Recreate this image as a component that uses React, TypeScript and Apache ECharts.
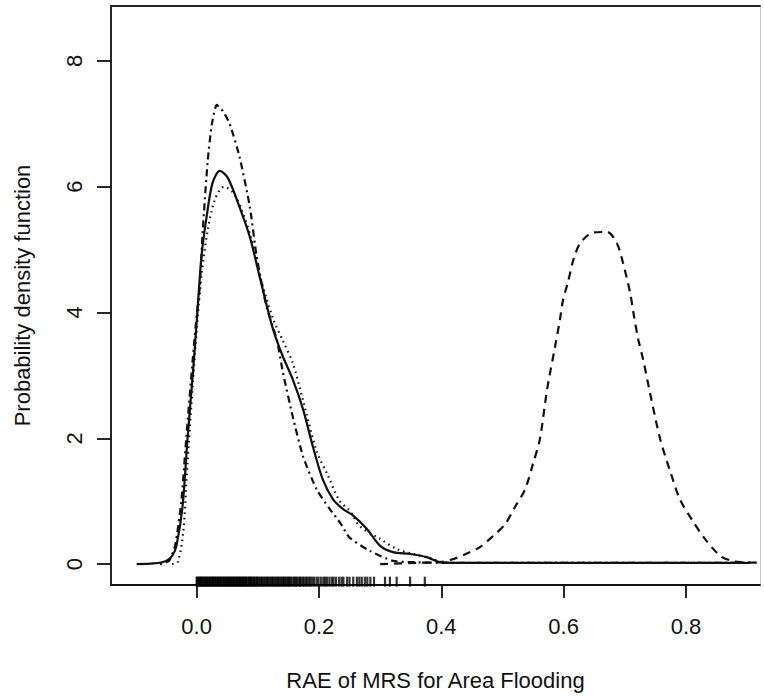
import React, { useEffect, useRef } from "react";
import * as echarts from "echarts";

const xTicks = [0, 0.2, 0.4, 0.6, 0.8];
const yTicks = [0, 2, 4, 6, 8];
const xTitle = "RAE of MRS for Area Flooding";
const yTitle = "Probability density function";

const solidCurve = [
  [-0.098, 0.0], [-0.07, 0.01], [-0.05, 0.05], [-0.04, 0.13], [-0.033, 0.29], [-0.023, 0.92],
  [-0.015, 1.98], [-0.006, 3.05], [0.0, 3.84], [0.008, 4.9], [0.016, 5.5], [0.026, 6.06],
  [0.038, 6.25], [0.051, 6.14], [0.07, 5.68], [0.087, 5.2], [0.103, 4.57], [0.125, 3.73],
  [0.141, 3.3], [0.157, 2.94], [0.174, 2.46], [0.19, 1.87], [0.206, 1.35], [0.223, 1.03],
  [0.24, 0.87], [0.256, 0.77], [0.278, 0.56], [0.3, 0.29], [0.321, 0.19], [0.349, 0.16],
  [0.376, 0.11], [0.398, 0.03], [0.42, 0.02], [0.6, 0.02], [0.8, 0.02], [0.905, 0.02],
];

const dottedCurve = [
  [-0.04, 0.0], [-0.031, 0.03], [-0.022, 0.5], [-0.015, 1.6], [-0.006, 2.9], [0.0, 3.7],
  [0.008, 4.6], [0.018, 5.3], [0.03, 5.8], [0.045, 6.0], [0.06, 5.9], [0.075, 5.6],
  [0.09, 5.15], [0.103, 4.6], [0.125, 3.9], [0.141, 3.55], [0.157, 3.2], [0.174, 2.6],
  [0.196, 1.8], [0.215, 1.4], [0.234, 1.0], [0.25, 0.85], [0.267, 0.6], [0.3, 0.4],
  [0.327, 0.24], [0.354, 0.16], [0.386, 0.08], [0.4, 0.03], [0.42, 0.02], [0.905, 0.02],
];

const dashDotCurve = [
  [-0.06, 0.0], [-0.045, 0.05], [-0.035, 0.3], [-0.025, 1.0], [-0.017, 2.0], [-0.006, 3.3],
  [0.0, 3.95], [0.005, 4.4], [0.01, 5.3], [0.018, 6.4], [0.025, 7.0], [0.033, 7.3],
  [0.043, 7.2], [0.054, 7.0], [0.07, 6.48], [0.087, 5.68], [0.098, 4.9], [0.114, 4.1],
  [0.131, 3.57], [0.141, 3.05], [0.157, 2.35], [0.174, 1.71], [0.196, 1.19], [0.218, 0.87],
  [0.235, 0.65], [0.25, 0.42], [0.283, 0.21], [0.321, 0.05], [0.354, 0.03], [0.4, 0.02],
  [0.905, 0.02],
];

const dashedCurve = [
  [0.3, 0.0], [0.36, 0.02], [0.398, 0.03], [0.42, 0.08], [0.44, 0.16], [0.463, 0.27],
  [0.485, 0.45], [0.504, 0.63], [0.52, 0.9], [0.537, 1.19], [0.55, 1.6], [0.561, 1.98],
  [0.573, 2.78], [0.586, 3.46], [0.594, 3.89], [0.599, 4.2], [0.607, 4.48], [0.616, 4.84],
  [0.627, 5.1], [0.648, 5.27], [0.671, 5.28], [0.687, 5.1], [0.697, 4.79], [0.709, 4.3],
  [0.714, 4.0], [0.722, 3.57], [0.73, 3.25], [0.741, 2.73], [0.758, 1.98], [0.775, 1.45],
  [0.79, 1.03], [0.81, 0.7], [0.831, 0.4], [0.856, 0.13], [0.875, 0.05], [0.89, 0.03],
  [0.93, 0.02],
];

const rugValues = [
  0.000, 0.001, 0.003, 0.004, 0.006, 0.007, 0.008, 0.010, 0.011, 0.013, 0.014, 0.016,
  0.017, 0.019, 0.020, 0.022, 0.023, 0.025, 0.026, 0.027, 0.029, 0.030, 0.032, 0.033,
  0.035, 0.036, 0.038, 0.039, 0.041, 0.042, 0.044, 0.045, 0.047, 0.048, 0.050, 0.051,
  0.053, 0.054, 0.056, 0.057, 0.059, 0.060, 0.062, 0.063, 0.065, 0.066, 0.068, 0.069,
  0.071, 0.072, 0.074, 0.075, 0.077, 0.078, 0.080, 0.081, 0.083, 0.085, 0.086, 0.088,
  0.089, 0.091, 0.093, 0.094, 0.096, 0.098, 0.099, 0.101, 0.103, 0.105, 0.107, 0.109,
  0.111, 0.113, 0.115, 0.117, 0.119, 0.121, 0.123, 0.125, 0.127, 0.129, 0.131, 0.133,
  0.135, 0.137, 0.139, 0.141, 0.143, 0.145, 0.147, 0.149, 0.151, 0.153, 0.155, 0.158,
  0.160, 0.162, 0.164, 0.167, 0.169, 0.171, 0.174, 0.176, 0.179, 0.181, 0.184, 0.186,
  0.189, 0.192, 0.196, 0.199, 0.203, 0.207, 0.210, 0.213, 0.217, 0.221, 0.224, 0.228,
  0.233, 0.237, 0.240, 0.246, 0.250, 0.256, 0.262, 0.266, 0.270, 0.275, 0.279, 0.284,
  0.290, 0.308, 0.316, 0.327, 0.349, 0.373,
];

const RUG_Y = -0.28;
const FONT = '"Liberation Sans", Arial, Helvetica, sans-serif';

export default function App() {
  const ref = useRef<HTMLDivElement>(null);
  useEffect(() => {
    const chart = echarts.init(ref.current!, null, { renderer: "svg" });
    const xMin = -0.14;
    const xMax = 0.921;
    const yMin = -0.333;
    const yMax = 8.873;
    const lineBase = (data: number[][], type: any, smooth = 0.3, width = 2.2) => ({
      type: "line",
      data,
      showSymbol: false,
      smooth,
      silent: true,
      lineStyle: { color: "#111", width, type, cap: "butt" },
    });
    chart.setOption({
      animation: false,
      backgroundColor: "#fff",
      grid: { left: 111, right: 4, top: 6, bottom: 110, show: false },
      xAxis: [
        {
          type: "value",
          min: xMin,
          max: xMax,
          name: xTitle,
          nameLocation: "middle",
          nameGap: 84,
          nameTextStyle: { fontFamily: FONT, fontSize: 22, color: "#111" },
          axisLine: { show: true, onZero: false, lineStyle: { color: "#111", width: 1.8 } },
          axisTick: { show: true, inside: false, length: 13, customValues: xTicks, lineStyle: { color: "#111", width: 1.8 } },
          axisLabel: {
            show: true,
            customValues: xTicks,
            margin: 30,
            fontFamily: FONT,
            fontSize: 22,
            color: "#111",
            formatter: (v: number) => v.toFixed(1),
          },
          splitLine: { show: false },
        },
        {
          type: "value",
          position: "top",
          min: xMin,
          max: xMax,
          axisLine: { show: true, onZero: false, lineStyle: { color: "#222", width: 1.8 } },
          axisTick: { show: false },
          axisLabel: { show: false },
          splitLine: { show: false },
        },
      ],
      yAxis: [
        {
          type: "value",
          min: yMin,
          max: yMax,
          name: yTitle,
          nameLocation: "middle",
          nameGap: 78,
          nameTextStyle: { fontFamily: FONT, fontSize: 22, color: "#111" },
          axisLine: { show: true, onZero: false, lineStyle: { color: "#111", width: 1.8 } },
          axisTick: { show: true, inside: false, length: 14, customValues: yTicks, lineStyle: { color: "#111", width: 1.8 } },
          axisLabel: {
            show: true,
            customValues: yTicks,
            rotate: 90,
            margin: 26,
            fontFamily: FONT,
            fontSize: 22,
            color: "#111",
            formatter: (v: number) => String(Math.round(v)),
          },
          splitLine: { show: false },
        },
        {
          type: "value",
          position: "right",
          min: yMin,
          max: yMax,
          axisLine: { show: true, onZero: false, lineStyle: { color: "#c8c8c8", width: 1 } },
          axisTick: { show: false },
          axisLabel: { show: false },
          splitLine: { show: false },
        },
      ],
      series: [
        lineBase(dashedCurve, [8, 6]),
        lineBase(dashDotCurve, [2, 4, 7, 4], 0.2),
        lineBase(dottedCurve, [1.5, 4]),
        lineBase(solidCurve, "solid"),
        {
          type: "scatter",
          data: rugValues.map((v) => [v, RUG_Y]),
          symbol: "rect",
          symbolSize: [2.2, 10],
          silent: true,
          clip: false,
          itemStyle: { color: "#000" },
        },
      ],
    });
    return () => chart.dispose();
  }, []);
  return (
    <div
      ref={ref}
      style={{ position: "fixed", left: 0, top: 0, width: 764, height: 696, background: "#fff" }}
    />
  );
}
